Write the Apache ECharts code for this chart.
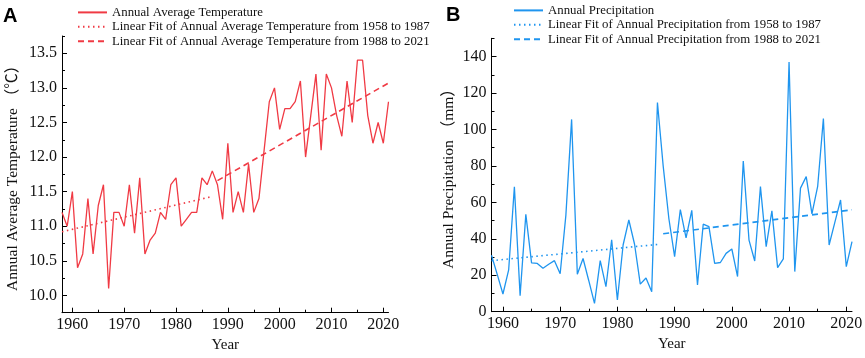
<!DOCTYPE html>
<html>
<head>
<meta charset="utf-8">
<script src="https://cdn.jsdelivr.net/npm/echarts@6/dist/echarts.min.js"></script>
<style>
    html, body {margin: 0; padding: 0; background: #fff;}
    #chart {width: 865px; height: 358px;}
</style>
</head>
<body>
<div id="chart"></div>
<script>
    // data
    var years = [1958, 1959, 1960, 1961, 1962, 1963, 1964, 1965, 1966, 1967,
        1968, 1969, 1970, 1971, 1972, 1973, 1974, 1975, 1976, 1977,
        1978, 1979, 1980, 1981, 1982, 1983, 1984, 1985, 1986, 1987,
        1988, 1989, 1990, 1991, 1992, 1993, 1994, 1995, 1996, 1997,
        1998, 1999, 2000, 2001, 2002, 2003, 2004, 2005, 2006, 2007,
        2008, 2009, 2010, 2011, 2012, 2013, 2014, 2015, 2016, 2017,
        2018, 2019, 2020, 2021];

    var temperature = [11.2, 11.0, 11.5, 10.4, 10.6, 11.4, 10.6, 11.3, 11.6, 10.1,
        11.2, 11.2, 11.0, 11.6, 10.9, 11.7, 10.6, 10.8, 10.9, 11.2,
        11.1, 11.6, 11.7, 11.0, 11.1, 11.2, 11.2, 11.7, 11.6, 11.8,
        11.6, 11.1, 12.2, 11.2, 11.5, 11.2, 11.9, 11.2, 11.4, 12.1,
        12.8, 13.0, 12.4, 12.7, 12.7, 12.8, 13.1, 12.0, 12.6, 13.2,
        12.1, 13.2, 13.0, 12.6, 12.3, 13.1, 12.5, 13.4, 13.4, 12.6,
        12.2, 12.5, 12.2, 12.8];

    var precipitation = [31, 20.5, 9.7, 22.9, 68.5, 8.8, 53.4, 26.8, 26.5, 23.8,
        26, 28, 20.8, 53, 105.5, 20.6, 29.2, 17, 4.6, 28,
        13.7, 39.5, 6.4, 36.6, 50.3, 37, 15.1, 18.5, 11, 114.8,
        80, 51, 30.2, 56, 40.5, 55.6, 14.7, 48, 46.7, 26.5,
        27, 32, 34.4, 19.3, 82.7, 39.3, 27.8, 68.6, 35.7, 55.3,
        24.2, 29, 137, 22, 67.8, 74.1, 53.7, 68.7, 106, 36.6,
        49, 61.3, 24.7, 38.5];

    // linear fit end points [year, value]
    var tempFitEarly = [[1958, 10.92], [1987, 11.43]];
    var tempFitLate = [[1988, 11.66], [2021, 13.07]];
    var precFitEarly = [[1958, 28.0], [1987, 36.9]];
    var precFitLate = [[1988, 42.8], [2021, 55.9]];

    // tick labels
    var yearTicks = [1960, 1970, 1980, 1990, 2000, 2010, 2020];
    var yearMinorTicks = [1965, 1975, 1985, 1995, 2005, 2015];
    var tempTicks = [10.0, 10.5, 11.0, 11.5, 12.0, 12.5, 13.0, 13.5];
    var tempMinorTicks = [10.25, 10.75, 11.25, 11.75, 12.25, 12.75, 13.25, 13.75];
    var precTicks = [0, 20, 40, 60, 80, 100, 120, 140];
    var precMinorTicks = [10, 30, 50, 70, 90, 110, 130, 150];

    var serif = "'Liberation Serif', 'Times New Roman', 'Noto Sans CJK SC', serif";
    var red = '#f03a44';
    var blue = '#1f95ef';

    var names = {
        temp: ['Annual Average Temperature',
            'Linear Fit of Annual Average Temperature from 1958 to 1987',
            'Linear Fit of Annual Average Temperature from 1988 to 2021'],
        prec: ['Annual Precipitation',
            'Linear Fit of Annual Precipitation from 1958 to 1987',
            'Linear Fit of Annual Precipitation from 1988 to 2021']
    };

    function pairs(xs, ys) {
        var out = [];
        for (var i = 0; i < xs.length; i++) {
            out.push([xs[i], ys[i]]);
        }
        return out;
    }

    // main axis with labels + long ticks
    function mainAxis(grid, pos, min, max, labels, fmt, name, gap) {
        var isY = pos === 'left';
        return {
            type: 'value', gridIndex: grid, position: pos, min: min, max: max,
            name: name, nameLocation: 'middle', nameGap: gap,
            nameTextStyle: {fontFamily: serif, fontSize: isY ? 15.5 : 15, color: '#111'},
            axisLine: {show: true, onZero: false, lineStyle: {color: '#000', width: 1}},
            axisTick: {show: true, inside: true, length: 5, customValues: labels,
                lineStyle: {color: '#000', width: 1}},
            axisLabel: {show: true, customValues: labels, margin: isY ? 5 : 4,
                fontFamily: serif, fontSize: 16, color: '#111', formatter: fmt},
            splitLine: {show: false}
        };
    }

    // overlay axis that only draws the short ticks
    function minorAxis(grid, pos, min, max, ticks) {
        return {
            type: 'value', gridIndex: grid, position: pos, min: min, max: max,
            axisLine: {show: false, onZero: false},
            axisTick: {show: true, inside: true, length: 3, customValues: ticks,
                lineStyle: {color: '#000', width: 1}},
            axisLabel: {show: false},
            splitLine: {show: false}
        };
    }

    function legend(left, top, list) {
        return {
            left: left, top: top, orient: 'vertical', padding: 0,
            itemWidth: 29, itemHeight: 14, itemGap: 1.6,
            itemStyle: {opacity: 0},
            textStyle: {fontFamily: serif, fontSize: 12.8, color: '#111'},
            data: list,
            selectedMode: false
        };
    }

    function lines(name, data, color, type, width, xi, yi) {
        return {
            name: name, type: 'line', data: data,
            xAxisIndex: xi, yAxisIndex: yi,
            symbol: 'none', showSymbol: false, animation: false,
            lineStyle: {color: color, width: width, type: type},
            itemStyle: {color: color}
        };
    }

    function yearFmt(v) {
        return String(v);
    }

    var myChart = echarts.init(document.getElementById('chart'));

    var option = {
        backgroundColor: '#fff',
        animation: false,
        title: [
            {text: 'A', left: 3, top: 6, padding: 0,
                textStyle: {fontFamily: "'Liberation Sans', Arial, sans-serif", fontSize: 20, fontWeight: 'bold', color: '#000'}},
            {text: 'B', left: 446, top: 5, padding: 0,
                textStyle: {fontFamily: "'Liberation Sans', Arial, sans-serif", fontSize: 20, fontWeight: 'bold', color: '#000'}}
        ],
        legend: [
            legend(77, 6, names.temp),
            legend(513, 4, names.prec)
        ],
        grid: [
            {left: 62, top: 36, width: 326.5, height: 276.7, outerBoundsMode: 'none'},
            {left: 491.5, top: 38.3, width: 360.5, height: 273.4, outerBoundsMode: 'none'}
        ],
        xAxis: [
            mainAxis(0, 'bottom', 1958, 2021, yearTicks, yearFmt, 'Year', 25),
            minorAxis(0, 'bottom', 1958, 2021, yearMinorTicks),
            mainAxis(1, 'bottom', 1958, 2021, yearTicks, yearFmt, 'Year', 25),
            minorAxis(1, 'bottom', 1958, 2021, yearMinorTicks)
        ],
        yAxis: [
            mainAxis(0, 'left', 9.75, 13.75, tempTicks, function (v) { return v.toFixed(1); },
                'Annual Average Temperature （℃）', 41),
            minorAxis(0, 'left', 9.75, 13.75, tempMinorTicks),
            mainAxis(1, 'left', 0, 150, precTicks, yearFmt, 'Annual Precipitation （mm）', 35),
            minorAxis(1, 'left', 0, 150, precMinorTicks)
        ],
        series: [
            lines(names.temp[0], pairs(years, temperature), red, 'solid', 1.3, 0, 0),
            lines(names.temp[1], tempFitEarly, red, [1.5, 3.5], 1.6, 0, 0),
            lines(names.temp[2], tempFitLate, red, [6, 4], 1.6, 0, 0),
            lines(names.prec[0], pairs(years, precipitation), blue, 'solid', 1.3, 2, 2),
            lines(names.prec[1], precFitEarly, blue, [1.5, 3.5], 1.6, 2, 2),
            lines(names.prec[2], precFitLate, blue, [6, 4], 1.6, 2, 2)
        ]
    };

    myChart.setOption(option);
</script>
</body>
</html>
